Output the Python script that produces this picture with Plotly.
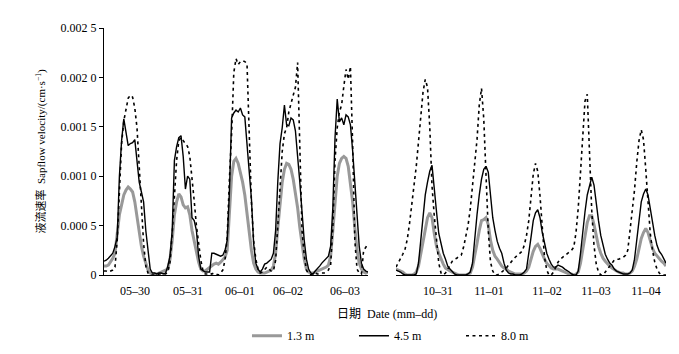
import plotly.graph_objects as go

# Units: 1e-4 cm/s, hourly samples, 5 days per panel
SCALE = 1e-4
hours = list(range(0, 121))

# ---------- Left panel (05-30 .. 06-03) ----------
left_tick_pos = [14.1, 38.2, 61.8, 83.6, 109.5]
left_ticks = ["05–30", "05–31", "06–01", "06–02", "06–03"]

gray_L = [0.9, 0.9, 1.0, 1.3, 1.7, 2.2, 4.5, 6.1, 7.1, 8.1, 8.6, 8.9, 8.7, 8.4, 7.4, 5.8, 4.2, 2.9, 1.9, 1.1, 0.5, 0.2, 0.1, 0.1, 0.1,
          0.2, 0.3, 0.4, 0.5, 0.6, 1.6, 3.5, 6.1, 7.4, 8.2, 7.9, 7.1, 6.8, 6.9, 6.1, 4.5, 3.5, 2.2, 1.3, 0.6, 0.4, 0.4, 0.6, 0.8,
          1.0, 1.1, 1.2, 1.1, 1.3, 1.5, 1.8, 2.5, 5.8, 10.0, 11.5, 11.8, 11.3, 10.4, 9.4, 8.1, 6.1, 4.2, 2.5, 1.2, 0.6, 0.3, 0.2, 0.2,
          0.2, 0.3, 0.4, 0.5, 0.9, 2.2, 4.8, 7.4, 9.4, 10.7, 11.3, 11.2, 10.7, 9.7, 8.4, 6.8, 4.8, 2.9, 1.6, 0.6, 0.3, 0.2, 0.2, 0.3,
          0.4, 0.5, 0.6, 0.7, 0.8, 1.0, 1.9, 4.5, 7.7, 10.0, 11.3, 11.8, 12.0, 11.8, 11.0, 9.4, 7.4, 4.8, 2.5, 1.2, 0.6, 0.3, 0.2, 0.3]

solid_L = [1.4, 1.5, 1.7, 2.0, 2.2, 2.9, 3.8, 10.0, 13.6, 15.8, 14.5, 13.1, 13.3, 13.4, 13.7, 11.6, 9.4, 8.4, 7.4, 4.5, 2.2, 0.6, 0.2, 0.2, 0.1,
           0.2, 0.2, 0.1, 0.2, 0.9, 1.9, 4.5, 11.6, 13.0, 13.9, 14.1, 12.0, 8.7, 10.0, 9.7, 5.8, 5.5, 4.5, 1.9, 0.6, 0.4, 0.3, 0.3, 0.3,
           2.2, 2.2, 2.1, 2.0, 1.9, 2.0, 2.5, 3.5, 8.4, 15.9, 16.4, 16.7, 16.5, 16.9, 16.2, 16.0, 13.5, 11.0, 7.7, 3.2, 1.2, 0.6, 0.3, 0.6,
           1.1, 1.2, 1.4, 1.6, 2.2, 4.5, 9.5, 13.3, 14.9, 17.2, 15.2, 15.1, 15.9, 15.7, 14.6, 12.3, 9.4, 6.4, 3.5, 1.6, 0.6, 0.2, 0.1, 0.4,
           0.6, 0.9, 1.2, 1.4, 1.6, 1.9, 2.9, 6.8, 13.9, 17.8, 15.5, 15.9, 15.2, 16.2, 16.0, 15.2, 12.6, 9.1, 5.8, 2.9, 1.2, 0.6, 0.4, 0.3]

dotted_L = [0.4, 0.4, 0.3, 0.4, 0.5, 0.8, 3.5, 8.4, 13.3, 15.6, 16.9, 17.9, 18.2, 18.0, 16.9, 14.9, 11.0, 7.1, 3.2, 0.9, 0.2, 0.0, 0.0, 0.0, 0.0,
            0.1, 0.1, 0.1, 0.1, 0.3, 1.3, 4.2, 8.4, 11.6, 13.6, 13.9, 13.6, 13.3, 13.0, 12.0, 10.0, 7.5, 5.0, 3.0, 1.5, 0.4, 0.1, 0.1, 0.2,
            0.1, 0.2, 0.1, 0.0, 0.2, 0.5, 1.5, 3.8, 9.7, 14.3, 20.5, 21.9, 21.3, 21.6, 21.7, 21.6, 21.4, 14.9, 7.4, 3.5, 1.6, 0.6, 0.2, 0.3,
            0.5, 0.8, 0.6, 0.4, 0.4, 1.5, 5.0, 9.5, 12.5, 14.3, 14.9, 16.5, 17.5, 18.2, 19.0, 21.5, 13.0, 4.5, 2.0, 0.5, 0.1, 0.0, 0.1, 0.2,
            0.1, 0.1, 0.2, 0.2, 0.3, 0.5, 1.0, 4.8, 11.6, 14.9, 16.5, 17.2, 19.1, 20.8, 19.8, 21.1, 13.3, 3.5, 0.6, 0.2, 0.1, 2.5, 2.8, 3.2]

# ---------- Right panel (10-31 .. 11-04) ----------
right_tick_pos = [18.7, 41.3, 67.1, 88.9, 111.1]
right_ticks = ["10–31", "11–01", "11–02", "11–03", "11–04"]

gray_R = [0.6, 0.5, 0.4, 0.3, 0.1, 0.0, 0.0, 0.0, 0.1, 0.3, 0.9, 2.2, 3.2, 4.5, 5.8, 6.3, 5.8, 4.2, 2.9, 2.2, 1.6, 1.1, 0.7, 0.5, 0.4,
          0.3, 0.2, 0.1, 0.0, 0.0, 0.0, 0.0, 0.1, 0.2, 0.8, 1.9, 3.2, 4.5, 5.5, 5.6, 5.8, 5.1, 3.5, 2.5, 1.9, 1.6, 1.2, 0.9, 0.7,
          0.6, 0.4, 0.3, 0.2, 0.1, 0.1, 0.1, 0.1, 0.2, 0.4, 0.8, 1.6, 2.4, 2.9, 3.1, 2.7, 2.1, 1.6, 1.2, 0.9, 0.7, 0.6, 0.6, 0.6,
          0.5, 0.4, 0.3, 0.2, 0.1, 0.1, 0.0, 0.1, 0.3, 1.2, 2.5, 4.2, 5.3, 6.0, 6.0, 5.1, 3.8, 2.9, 2.2, 1.7, 1.4, 1.1, 0.9, 0.7,
          0.5, 0.4, 0.3, 0.2, 0.2, 0.1, 0.1, 0.2, 0.4, 0.9, 1.6, 2.7, 3.7, 4.3, 4.7, 4.3, 3.5, 2.7, 2.2, 1.9, 1.6, 1.4, 1.2, 0.9]

solid_R = [0.5, 0.4, 0.3, 0.1, 0.0, 0.0, 0.0, 0.0, 0.0, 0.1, 1.2, 3.5, 5.8, 8.1, 9.4, 10.5, 11.1, 8.4, 6.4, 4.2, 3.0, 2.2, 1.6, 0.9, 0.6,
           0.3, 0.1, 0.0, 0.0, 0.0, 0.0, 0.0, 0.1, 0.3, 1.2, 3.8, 6.1, 8.1, 9.7, 10.7, 11.0, 10.4, 7.7, 5.8, 4.5, 3.4, 2.7, 2.2, 1.2,
           0.5, 0.2, 0.1, 0.1, 0.0, 0.0, 0.0, 0.1, 0.3, 0.6, 2.5, 3.8, 5.5, 6.3, 6.6, 5.8, 4.3, 3.2, 2.2, 1.6, 1.1, 0.8, 0.8, 1.0,
           0.9, 0.8, 0.6, 0.4, 0.3, 0.1, 0.0, 0.0, 0.4, 2.2, 4.5, 6.4, 8.1, 9.1, 9.9, 9.1, 7.1, 5.5, 4.0, 2.9, 2.1, 1.6, 1.2, 1.0,
           0.6, 0.4, 0.3, 0.2, 0.1, 0.1, 0.1, 0.2, 0.5, 1.6, 3.5, 5.8, 7.4, 8.2, 8.7, 8.1, 6.8, 5.1, 4.0, 3.0, 2.4, 2.1, 1.6, 1.2]

dotted_R = [0.8, 1.2, 1.6, 2.1, 2.6, 3.6, 5.2, 7.0, 8.8, 11.0, 13.5, 16.0, 18.5, 19.8, 19.0, 15.0, 9.0, 6.0, 3.5, 1.2, 0.2, 0.0, 0.2, 0.6, 1.1,
            1.4, 1.6, 1.7, 1.9, 2.0, 2.8, 4.0, 5.0, 6.7, 8.9, 11.0, 13.7, 17.2, 18.9, 15.8, 9.5, 4.5, 1.3, 0.4, 0.0, 0.0, 0.1, 0.3, 0.5,
            0.7, 1.0, 1.3, 1.6, 1.8, 2.0, 2.2, 2.4, 3.0, 4.0, 5.5, 8.2, 10.2, 11.3, 10.5, 8.0, 4.8, 1.8, 0.5, 0.0, 0.0, 0.3, 0.8, 1.3,
            1.6, 1.8, 1.9, 2.1, 2.3, 2.5, 2.8, 4.3, 6.8, 10.2, 14.2, 17.6, 18.3, 11.8, 6.5, 3.0, 1.1, 0.3, 0.0, 0.0, 0.3, 0.6, 0.9, 1.3,
            1.5, 1.6, 1.6, 1.7, 1.8, 2.0, 2.5, 4.5, 6.3, 8.6, 11.4, 13.6, 14.7, 13.7, 10.7, 6.9, 4.2, 2.5, 1.3, 0.6, 0.2, 0.0, 0.0, 0.0]

series_names = ["1.3 m", "4.5 m", "8.0 m"]
y_tickvals = [0, 0.0005, 0.0010, 0.0015, 0.0020, 0.0025]
y_ticktext = ["0", "0.000 5", "0.001 0", "0.001 5", "0.002 0", "0.002 5"]

FONT = "Liberation Serif, Noto Sans CJK SC, serif"
styles = [
    dict(color="#999999", width=3.0),
    dict(color="black", width=1.4),
    dict(color="black", width=1.6, dash="3px,3.5px"),
]

fig = go.Figure()
panels = [("x", [gray_L, solid_L, dotted_L]), ("x2", [gray_R, solid_R, dotted_R])]
for pi, (xa, data) in enumerate(panels):
    for si, vals in enumerate(data):
        fig.add_trace(go.Scatter(
            x=hours, y=[v * SCALE for v in vals], mode="lines",
            name=series_names[si], line=styles[si],
            xaxis=xa, yaxis="y", showlegend=(pi == 0),
        ))

axis_common = dict(range=[0, 120], showline=True, linecolor="black", linewidth=1,
                   showgrid=False, zeroline=False, ticks="", anchor="y",
                   tickfont=dict(family=FONT, size=12, color="black"),
                   ticklabelstandoff=5)
fig.update_layout(
    width=679, height=354,
    margin=dict(l=96, r=21, t=20, b=78),
    paper_bgcolor="white", plot_bgcolor="white",
    font=dict(family=FONT, size=12, color="black"),
    xaxis=dict(domain=[0, 0.4698], tickvals=left_tick_pos, ticktext=left_ticks, **axis_common),
    xaxis2=dict(domain=[0.5196, 1], tickvals=right_tick_pos, ticktext=right_ticks, **axis_common),
    yaxis=dict(range=[0, 0.0025], tickvals=y_tickvals, ticktext=y_ticktext,
               showline=True, linecolor="black", linewidth=1, ticks="outside",
               ticklen=4, tickcolor="black", showgrid=False, zeroline=False,
               anchor="x", tickfont=dict(family=FONT, size=12, color="black")),
    legend=dict(orientation="h", x=0.54, xanchor="center", y=-0.246, yanchor="middle",
                font=dict(family=FONT, size=12, color="black"), bgcolor="rgba(0,0,0,0)",
                entrywidth=62, entrywidthmode="pixels", itemwidth=30),
    showlegend=True,
)
fig.add_annotation(text="液流速率  Sapflow velocity/(cm·s<sup>−1</sup>)", xref="paper", yref="paper",
                   x=-0.112, y=0.5, textangle=-90, showarrow=False,
                   xanchor="center", yanchor="middle",
                   font=dict(family=FONT, size=11, color="black"))
fig.add_annotation(text="日期  Date (mm–dd)", xref="paper", yref="paper",
                   x=0.5036, y=-0.156, showarrow=False, xanchor="center", yanchor="middle",
                   font=dict(family=FONT, size=12, color="black"))

fig.write_html("out.html")
